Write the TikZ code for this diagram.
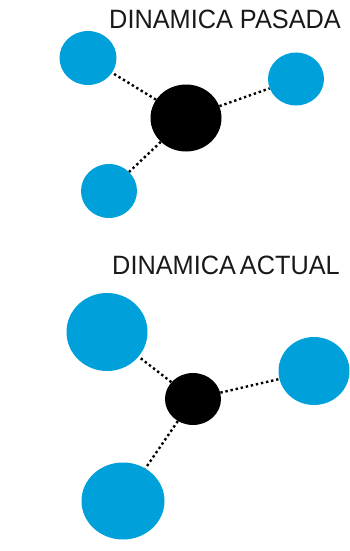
\documentclass[tikz,border=0pt]{standalone}
\usepackage{fontspec}
\setmainfont{Liberation Sans}
\usetikzlibrary{shapes.geometric}
\definecolor{azul}{RGB}{0,160,218}
\newcommand{\estrecho}[1]{\scalebox{0.955}[1]{#1}}
\begin{document}
\begin{tikzpicture}[x=1pt, y=-1pt,
    satelite/.style={ellipse, fill=azul, inner sep=0pt},
    nucleo/.style={ellipse, fill=black, inner sep=0pt},
    enlace/.style={line width=2.4pt, dash pattern=on 2.4pt off 2.8pt},
    titulo/.style={anchor=base east, inner sep=0pt, text=black!90,
        font=\fontsize{26.5}{30}\selectfont}]
    \useasboundingbox (0,0) rectangle (350,551);
    % Dinámica pasada
    \node[titulo] (tpasada) at (341,28.3) {\estrecho{DINAMICA PASADA}};
    \node[nucleo, minimum width=71pt, minimum height=67pt] (np) at (186,118) {};
    \node[satelite, minimum width=57pt, minimum height=54pt] (p1) at (88,58) {};
    \node[satelite, minimum width=56pt, minimum height=53pt] (p2) at (296,79) {};
    \node[satelite, minimum width=56pt, minimum height=54pt] (p3) at (109,191) {};
    \foreach \s in {p1,p2,p3}
        \draw[enlace] (np) -- (\s);
    % Dinámica actual
    \node[titulo] (tactual) at (340,274) {\estrecho{DINAMICA\hspace{-0.12em} ACTUAL}};
    \node[nucleo, minimum width=56pt, minimum height=52pt] (na) at (193,399) {};
    \node[satelite, minimum width=81pt, minimum height=78pt] (a1) at (107,332) {};
    \node[satelite, minimum width=71pt, minimum height=68pt] (a2) at (314,371) {};
    \node[satelite, minimum width=83pt, minimum height=77pt] (a3) at (123,501) {};
    \foreach \s in {a1,a2,a3}
        \draw[enlace] (na) -- (\s);
\end{tikzpicture}
\end{document}
